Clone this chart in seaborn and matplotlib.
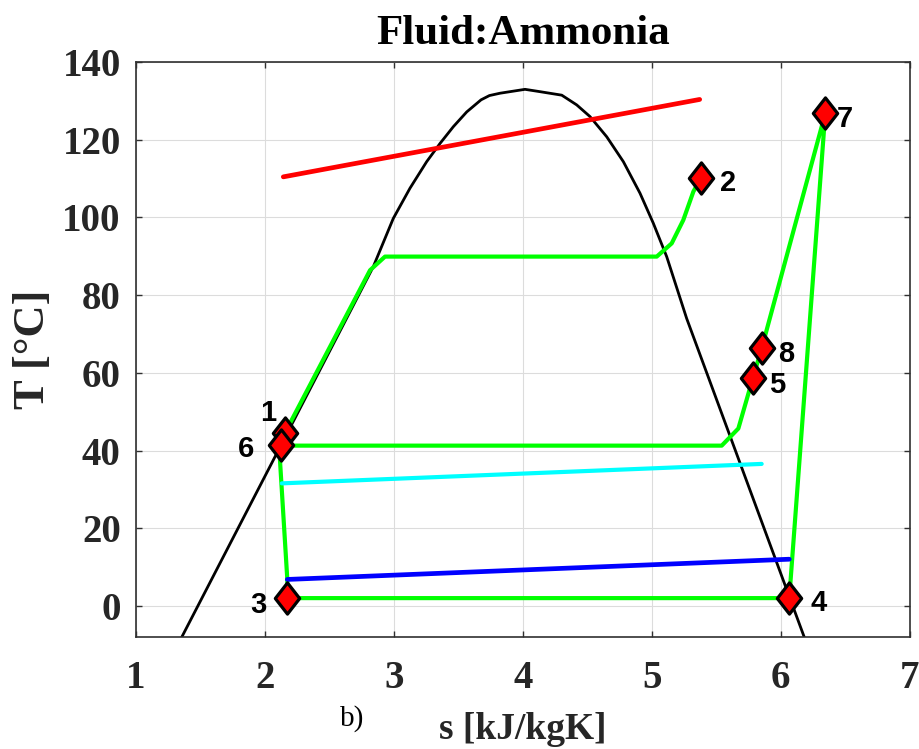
import matplotlib
matplotlib.use("Agg")
import matplotlib.pyplot as plt
from matplotlib.path import Path
from matplotlib.markers import MarkerStyle
import numpy as np
import pandas as pd
import seaborn as sns

# ---------------- data ----------------
# saturation dome of ammonia
dome_s = [1.281, 1.353, 2.840, 2.995, 3.125, 3.254, 3.358, 3.461, 3.565, 3.676,
          3.741, 3.823, 4.017, 4.133, 4.302, 4.418, 4.521, 4.651, 4.780, 4.909,
          5.012, 5.116, 5.271, 6.184, 6.211]
dome_T = [-12.6, -8.0, 87.3, 99.7, 107.5, 114.3, 119.0, 123.3, 127.1, 130.2,
          131.3, 131.9, 132.9, 132.3, 131.4, 128.9, 125.9, 120.7, 114.3, 106.2,
          98.5, 89.9, 74.0, -8.0, -10.4]

# high-pressure branch: state 1 -> state 2
upper_s = [2.155, 2.815, 2.931, 5.039, 5.155, 5.245, 5.323, 5.380]
upper_T = [44.6, 86.4, 89.9, 89.9, 93.3, 99.3, 106.6, 110.0]

# main cycle: 6 -> 5 -> 8 -> 7 -> 4 -> 3 -> 6
lower_s = [2.124, 5.543, 5.672, 5.784, 5.853, 6.346, 6.067, 2.173, 2.173, 2.116, 2.124]
lower_T = [41.3, 41.3, 45.7, 58.6, 66.3, 126.7, 2.1, 2.1, 6.9, 37.6, 41.3]

# heat source / sink lines
red_s = [2.142, 5.372]
red_T = [110.4, 130.3]
cyan_s = [2.130, 5.853]
cyan_T = [31.6, 36.6]
blue_s = [2.173, 6.067]
blue_T = [6.9, 12.1]

# state points
state_labels = ["1", "2", "3", "4", "5", "6", "7", "8"]
state_s = [2.155, 5.380, 2.173, 6.067, 5.784, 2.124, 6.346, 5.853]
state_T = [44.6, 110.0, 2.1, 2.1, 58.6, 41.4, 126.7, 66.3]

x_ticks = [1, 2, 3, 4, 5, 6, 7]
y_ticks = [0, 20, 40, 60, 80, 100, 120, 140]

title_text = "Fluid:Ammonia"
xlabel_text = "s [kJ/kgK]"
ylabel_text = "T [°C]"
panel_text = "b)"

# ---------------- styling ----------------
label_offsets = {  # in points, relative to each state marker
    "1": (-12, 16.5), "2": (19.5, -1.5), "3": (-21, -3), "4": (21, -1.5),
    "5": (17.5, -2.5), "6": (-25, -0.8), "7": (14, -2), "8": (18, -1.8),
}

sns.set_theme(style="whitegrid")
plt.rcParams["font.family"] = ["Liberation Serif", "DejaVu Serif"]
plt.rcParams["font.weight"] = "bold"

fig = plt.figure(figsize=(9.19, 7.49), dpi=100)
ax = fig.add_axes([0.1481, 0.149, 0.8416, 0.7686])
ax.set_facecolor("white")

sns.lineplot(x=dome_s, y=dome_T, sort=False, estimator=None, color="black",
             linewidth=2.0, ax=ax, zorder=2)
sns.lineplot(x=upper_s, y=upper_T, sort=False, estimator=None, color="#00ff00",
             linewidth=3.0, ax=ax, zorder=3)
sns.lineplot(x=lower_s, y=lower_T, sort=False, estimator=None, color="#00ff00",
             linewidth=3.0, ax=ax, zorder=3)
sns.lineplot(x=red_s, y=red_T, sort=False, estimator=None, color="#ff0000",
             linewidth=3.4, ax=ax, zorder=3)
sns.lineplot(x=cyan_s, y=cyan_T, sort=False, estimator=None, color="#00ffff",
             linewidth=3.0, ax=ax, zorder=3)
sns.lineplot(x=blue_s, y=blue_T, sort=False, estimator=None, color="#0000ff",
             linewidth=3.4, ax=ax, zorder=3)

diamond = MarkerStyle(Path([(0, 1), (0.78, 0), (0, -1), (-0.78, 0), (0, 1)],
                           [Path.MOVETO, Path.LINETO, Path.LINETO, Path.LINETO, Path.CLOSEPOLY]))
sns.scatterplot(x=state_s, y=state_T, marker=diamond, s=22.5 ** 2, color="#ff0000",
                edgecolor="black", linewidth=2.3, ax=ax, zorder=5)

for lbl, sx, tx in zip(state_labels, state_s, state_T):
    ax.annotate(lbl, (sx, tx), xytext=label_offsets[lbl], textcoords="offset points",
                ha="center", va="center_baseline", fontsize=21, fontweight="bold",
                family=["Liberation Sans", "DejaVu Sans"], color="black", zorder=6)

ax.set_xlim(1, 7)
ax.set_ylim(-8, 140)
ax.set_xticks(x_ticks)
ax.set_yticks(y_ticks)
ax.set_xticklabels([str(v) for v in x_ticks])
ax.set_yticklabels([str(v) for v in y_ticks])

ax.grid(True, color="#dcdcdc", linewidth=0.8)
for sp in ax.spines.values():
    sp.set_visible(True)
    sp.set_color("#303030")
    sp.set_linewidth(1.2)
ax.tick_params(axis="both", which="both", direction="in", length=4.5, width=1.0,
               colors="#303030", top=True, right=True, bottom=True, left=True,
               labelcolor="#262626")
ax.tick_params(axis="x", labelsize=28, pad=16)
ax.tick_params(axis="y", labelsize=28, pad=11)
for t in ax.get_xticklabels() + ax.get_yticklabels():
    t.set_fontweight("bold")

ax.set_title(title_text, fontsize=31, fontweight="bold", pad=13, color="black")
ax.set_xlabel(xlabel_text, fontsize=27, fontweight="bold", color="#262626")
ax.xaxis.set_label_coords(0.5, -0.1296)
ax.set_ylabel(ylabel_text, fontsize=32, fontweight="bold", color="#262626")
ax.yaxis.set_label_coords(-0.108, 0.5)

ax.text(0.279, -0.118, panel_text, transform=ax.transAxes, fontsize=21,
        fontweight="normal", ha="center", va="top", color="black")

fig.savefig("out.png", dpi=100)
